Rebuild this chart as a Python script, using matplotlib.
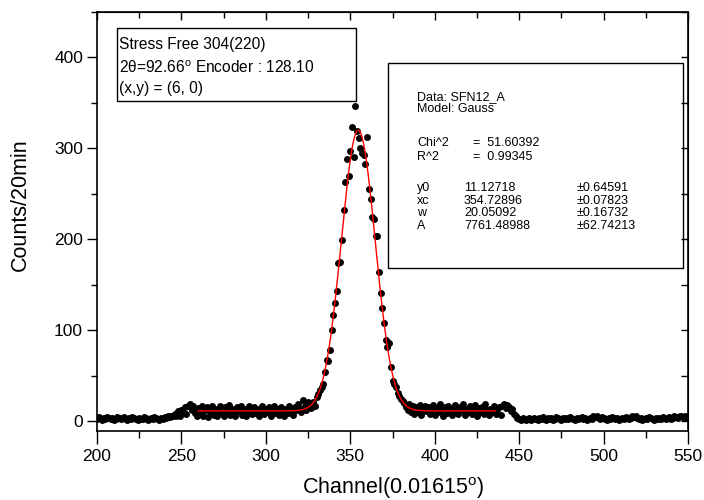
import numpy as np
import matplotlib
matplotlib.use("Agg")
import matplotlib.pyplot as plt
from matplotlib.patches import Rectangle
from matplotlib.ticker import MultipleLocator

plt.rcParams['font.family'] = ['Liberation Sans', 'DejaVu Sans']
plt.rcParams['mathtext.fontset'] = 'custom'
plt.rcParams['mathtext.rm'] = 'Liberation Sans'

# counts per channel in segments (start channel, values)
start_a = 200
counts_a = [2, 4, 3, 1, 3, 2, 4, 3, 2, 3, 1, 2, 4, 3, 2, 3, 4, 2, 1, 3, 2, 4, 3, 2,
            1, 3, 2, 2, 4, 3, 1, 2, 3, 2, 4, 3, 2, 1, 3, 2, 4, 3, 5, 4, 6, 5, 8, 6]
start_b = 248
counts_b = [11, 6, 12, 9, 15, 8, 17, 19, 12, 16, 9,
            5, 14, 8, 16, 6, 12, 15, 4, 10, 17, 7, 13, 5, 11, 16, 9, 6, 15, 11, 18,
            7, 13, 10, 5, 15, 11, 16, 7, 13, 6, 10, 17, 11, 8, 15, 9, 13, 5, 11, 16,
            8, 13, 10, 15, 6, 11, 17, 9, 13, 7, 15, 11, 6, 13, 9, 16, 11, 7, 15, 12,
            19, 13, 10, 23, 16, 12, 21, 18, 14, 21, 17, 26]
start_c = 331
counts_c = [30, 34, 37, 41, 54, 67, 66, 78, 100, 117, 130, 143, 174, 175, 199, 232,
            263, 288, 270, 297, 324, 290, 347, 319, 311, 300, 295, 293, 283, 312, 255,
            244, 224, 222, 204, 203, 164, 141, 124, 108, 89, 81, 86, 59, 44, 41, 37,
            31, 28, 24, 22]
start_d = 382
counts_d = [20, 15, 12, 19, 10, 16, 8, 15, 10, 18, 7, 13, 17, 11,
            15, 8, 12, 18, 7, 14, 10, 19, 12, 6, 15, 9, 17, 12, 7, 14, 18, 10, 8, 15,
            12, 19, 7, 13, 10, 17, 8, 12, 18, 6, 14, 10, 15, 8, 19, 12, 7, 13, 10, 16,
            8, 12, 15, 7,
            16, 19, 14, 18, 15, 11, 13, 8, 5, 3]
start_e = 450
counts_e = [2, 1, 3, 2, 1, 2, 3, 1, 2, 3, 2, 1, 3, 2, 4, 2, 1, 3, 2, 3,
            1, 2, 4, 3, 2, 1, 3, 2, 3, 2, 4, 3, 2, 1, 3, 2, 3, 4, 2, 3,
            1, 2, 3, 2, 5, 4, 6, 3, 2, 4, 3, 2, 1, 3, 2, 4, 3, 2, 3, 1,
            2, 3, 2, 4, 3, 2, 3, 5, 4, 6, 3, 2, 3, 1, 2, 3, 2, 4, 3, 2,
            1, 3, 2, 3, 2, 4, 3, 2, 3, 4, 2, 3, 5, 4, 3, 5, 6, 4, 5, 3, 4]

segments = [(start_a, counts_a), (start_b, counts_b), (start_c, counts_c),
            (start_d, counts_d), (start_e, counts_e)]
channel = np.concatenate([s + np.arange(len(c)) for s, c in segments])
counts = np.concatenate([np.array(c, dtype=float) for s, c in segments])

# Gauss fit parameters shown in the chart
y0, xc, w, A = 11.12718, 354.72896, 20.05092, 7761.48988
fit_range = (260, 436)

W, H = 704, 500
fig = plt.figure(figsize=(W / 100, H / 100), dpi=100, facecolor='white')
ax = fig.add_axes([97 / W, 1 - 431 / H, (688 - 97) / W, (431 - 12) / H])

ax.plot(channel, counts, 'o', color='black', ms=5.0, mew=0, zorder=2)
xf = np.linspace(fit_range[0], fit_range[1], 500)
yf = y0 + A / (w * np.sqrt(np.pi / 2)) * np.exp(-2 * ((xf - xc) / w) ** 2)
ax.plot(xf, yf, color='red', lw=1.0, zorder=3)

ax.set_xlim(200, 550)
ax.set_ylim(-11, 450)
ax.xaxis.set_major_locator(MultipleLocator(50))
ax.xaxis.set_minor_locator(MultipleLocator(25))
ax.yaxis.set_major_locator(MultipleLocator(100))
ax.yaxis.set_minor_locator(MultipleLocator(50))
ax.tick_params(axis='x', which='major', direction='out', length=9, width=1, labelsize=12.5, pad=4)
ax.tick_params(axis='x', which='minor', direction='out', length=5, width=1)
ax.tick_params(axis='y', which='major', direction='out', length=7, width=1, labelsize=12.5, pad=3)
ax.tick_params(axis='y', which='minor', direction='out', length=4, width=1)
for sp in ax.spines.values():
    sp.set_linewidth(1.2)

top = ax.secondary_xaxis('top')
top.xaxis.set_major_locator(MultipleLocator(50))
top.xaxis.set_minor_locator(MultipleLocator(25))
top.tick_params(which='major', direction='in', length=6, width=1, labeltop=False)
top.tick_params(which='minor', direction='in', length=4, width=1)
right = ax.secondary_yaxis('right')
right.yaxis.set_major_locator(MultipleLocator(50))
right.yaxis.set_minor_locator(MultipleLocator(50))
right.tick_params(which='major', direction='in', length=5, width=1, labelright=False)

ax.set_xlabel(r'Channel(0.01615$^\mathregular{o}$)', fontsize=15.5, labelpad=8)
ax.set_ylabel('Counts/20min', fontsize=15.5)
ax.yaxis.set_label_coords(-0.112, 0.54)


def fx(px):
    return px / W


def fy(py):
    return 1 - py / H


# info box, top left
fig.add_artist(Rectangle((fx(117), fy(101)), fx(356) - fx(117), fy(28) - fy(101),
                         transform=fig.transFigure, fill=False, ec='black', lw=1))
box1_lines = ['Stress Free 304(220)',
              r'2θ=92.66$^\mathregular{o}$ Encoder : 128.10',
              '(x,y) = (6, 0)']
for txt, py in zip(box1_lines, [45, 68, 89]):
    fig.text(fx(119), fy(py), txt, fontsize=11.2, va='center', ha='left')

# fit results box
fig.add_artist(Rectangle((fx(388), fy(268)), fx(683) - fx(388), fy(63) - fy(268),
                         transform=fig.transFigure, fill=False, ec='black', lw=1))
fs = 9
fig.text(fx(417), fy(97), 'Data: SFN12_A', fontsize=fs, va='center')
fig.text(fx(417), fy(109), 'Model: Gauss', fontsize=fs, va='center')
fig.text(fx(417), fy(143), 'Chi^2', fontsize=fs, va='center')
fig.text(fx(473), fy(143), '=  51.60392', fontsize=fs, va='center')
fig.text(fx(417), fy(157), 'R^2', fontsize=fs, va='center')
fig.text(fx(473), fy(157), '=  0.99345', fontsize=fs, va='center')

param_names = ['y0', 'xc', 'w', 'A']
param_values = ['11.12718', '354.72896', '20.05092', '7761.48988']
param_errors = ['±0.64591', '±0.07823', '±0.16732', '±62.74213']
for name, val, err, py in zip(param_names, param_values, param_errors, [188, 201, 213, 226]):
    fig.text(fx(417), fy(py), name, fontsize=fs, va='center')
    fig.text(fx(464), fy(py), val, fontsize=fs, va='center')
    fig.text(fx(577), fy(py), err, fontsize=fs, va='center')

fig.savefig('out.png', dpi=100, facecolor='white')
